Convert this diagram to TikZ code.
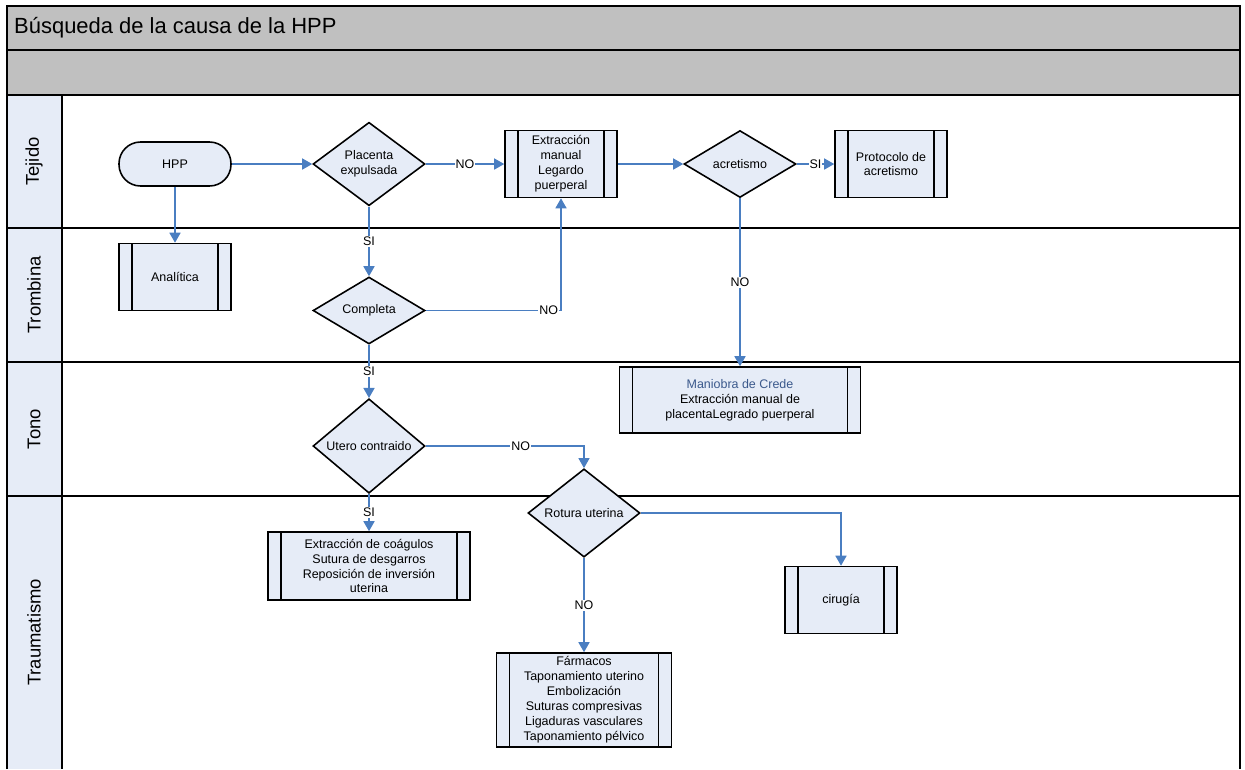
\documentclass[tikz,border=0pt]{standalone}
\usepackage{fontspec}
\setmainfont{Liberation Sans}
\usetikzlibrary{positioning,arrows.meta,shapes.geometric}
\definecolor{bandgray}{RGB}{192,192,192}
\definecolor{nodefill}{RGB}{230,236,247}
\definecolor{flowblue}{RGB}{74,126,193}
\definecolor{credeblue}{RGB}{59,89,140}

\begin{document}
\begin{tikzpicture}[x=0.02cm,y=-0.02cm,font=\fontsize{7.1}{8.5}\selectfont,
  frame/.style={line width=1.1pt},
  box/.style={draw,line width=0.9pt,fill=nodefill,align=center,inner xsep=2pt,inner ysep=1pt},
  proc/.style={box,minimum width=2.24cm,minimum height=1.34cm,
    path picture={\draw[line width=0.9pt]
      ([xshift=0.26cm]path picture bounding box.north west) -- ([xshift=0.26cm]path picture bounding box.south west)
      ([xshift=-0.26cm]path picture bounding box.north east) -- ([xshift=-0.26cm]path picture bounding box.south east);}},
  decision/.style={box,diamond,inner sep=0pt,minimum width=2.24cm,minimum height=1.34cm},
  terminal/.style={box,rounded corners=0.43cm,minimum width=2.24cm,minimum height=0.88cm},
  flow/.style={-{Triangle[length=0.2cm,width=0.22cm]},flowblue,line width=0.85pt},
  answer/.style={fill=white,inner sep=0.6pt,text=black},
  lanename/.style={rotate=90,font=\fontsize{10.5}{12}\selectfont}]
  \useasboundingbox (0,0) rectangle (1245,769);
  % header bands and lane column
  \fill[bandgray] (7,6) rectangle (1240,95);
  \fill[nodefill] (7,95) rectangle (62,769);
  \draw[frame] (7,769) -- (7,6) -- (1240,6) -- (1240,769);
  \foreach \y in {50,95,228,362,496} {\draw[frame] (7,\y) -- (1240,\y);}
  \draw[frame] (62,95) -- (62,769);
  \node[anchor=west,font=\fontsize{12.5}{15}\selectfont] (title) at (8,28) {Búsqueda de la causa de la HPP};
  % lane names
  \node[lanename] (tejido) at (34,161.5) {Tejido};
  \node[lanename] (trombina) at (34,295) {Trombina};
  \node[lanename] (tono) at (34,429) {Tono};
  \node[lanename] (trauma) at (34,632.5) {Traumatismo};
  % shapes
  \node[terminal] (hpp) at (175,164) {HPP};
  \node[decision] (placenta) at (369,164) {Placenta\\expulsada};
  \node[proc] (extraccion) at (561,164) {Extracción\\manual\\Legardo\\puerperal};
  \node[decision] (acretismo) at (740,164) {acretismo};
  \node[proc] (protocolo) at (891,164) {Protocolo de\\acretismo};
  \node[proc] (analitica) at (175,277) {Analítica};
  \node[decision] (completa) at (369,310.5) {Completa};
  \node[proc,minimum width=4.82cm,minimum height=1.32cm] (crede) at (740,400)
    {\textcolor{credeblue}{Maniobra de Crede}\\Extracción manual de\\placentaLegrado puerperal};
  \node[decision] (utero) at (369,446) {Utero contraido};
  \node[decision] (rotura) at (584,513) {Rotura uterina};
  \node[proc,minimum width=4.04cm,minimum height=1.36cm] (coagulos) at (369,566)
    {Extracción de coágulos\\Sutura de desgarros\\Reposición de inversión\\uterina};
  \node[proc] (cirugia) at (841,600) {cirugía};
  \node[proc,minimum width=3.5cm,minimum height=1.88cm] (farmacos) at (584,700)
    {Fármacos\\Taponamiento uterino\\Embolización\\Suturas compresivas\\Ligaduras vasculares\\Taponamiento pélvico};
  % connectors
  \draw[flow] (hpp) -- (placenta);
  \draw[flow] (hpp) -- (analitica);
  \draw[flow] (placenta) -- node[answer] {NO} (extraccion);
  \draw[flow] (placenta) -- node[answer] {SI} (completa);
  \draw[flow] (completa.east) -| node[answer,pos=0.455] {NO} (extraccion.south);
  \draw[flow] (extraccion) -- (acretismo);
  \draw[flow] (acretismo) -- node[answer] {SI} (protocolo);
  \draw[flow] (acretismo) -- node[answer] {NO} (crede);
  \draw[flow] (completa) -- node[answer] {SI} (utero);
  \draw[flow] (utero.east) -| node[answer,pos=0.3] {NO} (rotura.north);
  \draw[flow] (utero) -- node[answer] {SI} (coagulos);
  \draw[flow] (rotura.east) -| (cirugia.north);
  \draw[flow] (rotura) -- node[answer] {NO} (farmacos);
\end{tikzpicture}
\end{document}
